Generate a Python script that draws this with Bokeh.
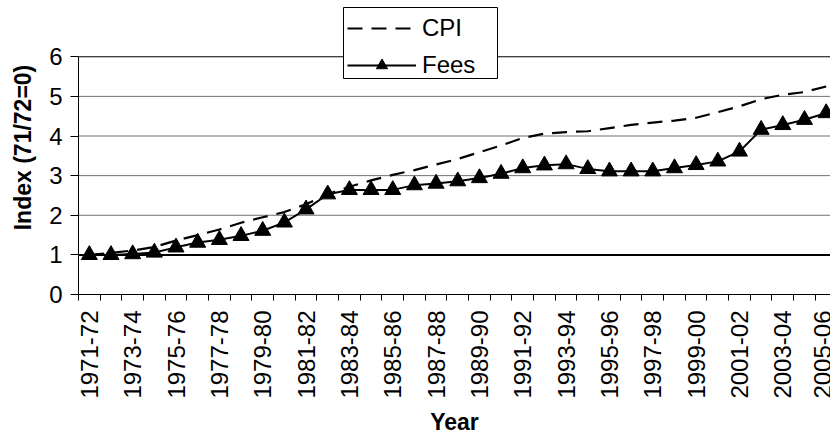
import math
from bokeh.plotting import figure
from bokeh.models import FixedTicker, Legend, LegendItem, Span, Range1d, BoxAnnotation
from bokeh.embed import file_html
from bokeh.resources import INLINE

years = ["1971-72", "1972-73", "1973-74", "1974-75", "1975-76", "1976-77",
         "1977-78", "1978-79", "1979-80", "1980-81", "1981-82", "1982-83",
         "1983-84", "1984-85", "1985-86", "1986-87", "1987-88", "1988-89",
         "1989-90", "1990-91", "1991-92", "1992-93", "1993-94", "1994-95",
         "1995-96", "1996-97", "1997-98", "1998-99", "1999-00", "2000-01",
         "2001-02", "2002-03", "2003-04", "2004-05", "2005-06"]

cpi = [1.00, 1.05, 1.11, 1.20, 1.36, 1.50, 1.64, 1.81, 1.95, 2.08,
       2.28, 2.53, 2.72, 2.88, 3.02, 3.14, 3.28, 3.42, 3.59, 3.76,
       3.95, 4.06, 4.10, 4.12, 4.20, 4.28, 4.34, 4.39, 4.46, 4.60,
       4.75, 4.93, 5.04, 5.11, 5.25]

fees = [1.00, 1.00, 1.02, 1.06, 1.19, 1.31, 1.38, 1.48, 1.61, 1.82,
        2.15, 2.53, 2.64, 2.64, 2.64, 2.76, 2.80, 2.86, 2.94, 3.05,
        3.19, 3.26, 3.29, 3.17, 3.11, 3.11, 3.11, 3.19, 3.27, 3.36,
        3.61, 4.16, 4.28, 4.41, 4.58]

y_ticks = [0, 1, 2, 3, 4, 5, 6]

FONT = "Liberation Sans"
FS = "23px"
TFS = "24px"

x = list(range(len(years)))

p = figure(width=830, height=437, output_backend="svg", toolbar_location=None,
           x_range=Range1d(-0.5, 34.20), y_range=Range1d(0, 7.42),
           min_border_left=78, min_border_right=0, min_border_top=0,
           min_border_bottom=141)
p.outline_line_color = None
p.xgrid.visible = False
p.ygrid.visible = False
p.background_fill_color = "white"

# gridlines
grid_style = {1: ("black", 2), 6: ("black", 1)}
for v in y_ticks[1:]:
    col, w = grid_style.get(v, ("#707070", 1))
    p.add_layout(Span(location=v, dimension="width", line_color=col,
                      line_width=w, level="underlay"))

xa = p.xaxis[0]
xa.ticker = FixedTicker(ticks=x[::2], minor_ticks=[i - 0.5 for i in range(len(years) + 1)])
xa.major_label_overrides = {i: years[i] for i in x[::2]}
xa.major_label_orientation = math.pi / 2
xa.major_tick_line_color = None
xa.major_tick_out = 6
xa.major_tick_in = 0
xa.minor_tick_out = 6
xa.minor_tick_in = 0
xa.minor_tick_line_color = "black"
xa.axis_line_color = "black"
xa.major_label_standoff = 10
xa.major_label_text_font = FONT
xa.major_label_text_font_size = TFS
xa.major_label_text_color = "black"
xa.axis_label = "Year"
xa.axis_label_text_font = FONT
xa.axis_label_text_font_size = FS
xa.axis_label_text_font_style = "bold"
xa.axis_label_text_color = "black"
xa.axis_label_standoff = 7

ya = p.yaxis[0]
ya.ticker = FixedTicker(ticks=y_ticks)
ya.bounds = (y_ticks[0], y_ticks[-1])
ya.major_tick_out = 8
ya.major_tick_in = 0
ya.minor_tick_line_color = None
ya.axis_line_color = "black"
ya.major_tick_line_color = "black"
ya.major_label_standoff = 8
ya.major_label_text_font = FONT
ya.major_label_text_font_size = TFS
ya.major_label_text_color = "black"
ya.axis_label = "Index (71/72=0)"
ya.axis_label_text_font = FONT
ya.axis_label_text_font_size = FS
ya.axis_label_text_font_style = "bold"
ya.axis_label_text_color = "black"
ya.axis_label_standoff = 10

cpi_r = p.line(x, cpi, line_color="black", line_width=2.2, line_dash="15 9")
fees_l = p.line(x, fees, line_color="black", line_width=2)
fees_m = p.scatter(x, fees, marker="triangle", size=16, color="black")

# legend box (frame of the legend)
box = BoxAnnotation(left=343, right=497, top=7, bottom=78,
                    left_units="canvas", right_units="canvas",
                    top_units="canvas", bottom_units="canvas",
                    fill_color="white", fill_alpha=1.0,
                    line_color="black", line_width=1, line_alpha=1.0,
                    level="annotation", editable=False)
p.add_layout(box)

legend = Legend(items=[LegendItem(label="CPI", renderers=[cpi_r]),
                       LegendItem(label="Fees", renderers=[fees_l, fees_m])],
                location=(269, 215), margin=0, padding=5, spacing=9,
                glyph_width=69, glyph_height=28, label_height=28,
                label_width=60, label_standoff=6,
                border_line_color=None,
                background_fill_alpha=0,
                label_text_font=FONT, label_text_font_size=TFS,
                label_text_color="black")
p.add_layout(legend)

open("out.html", "w").write(file_html(p, INLINE))
